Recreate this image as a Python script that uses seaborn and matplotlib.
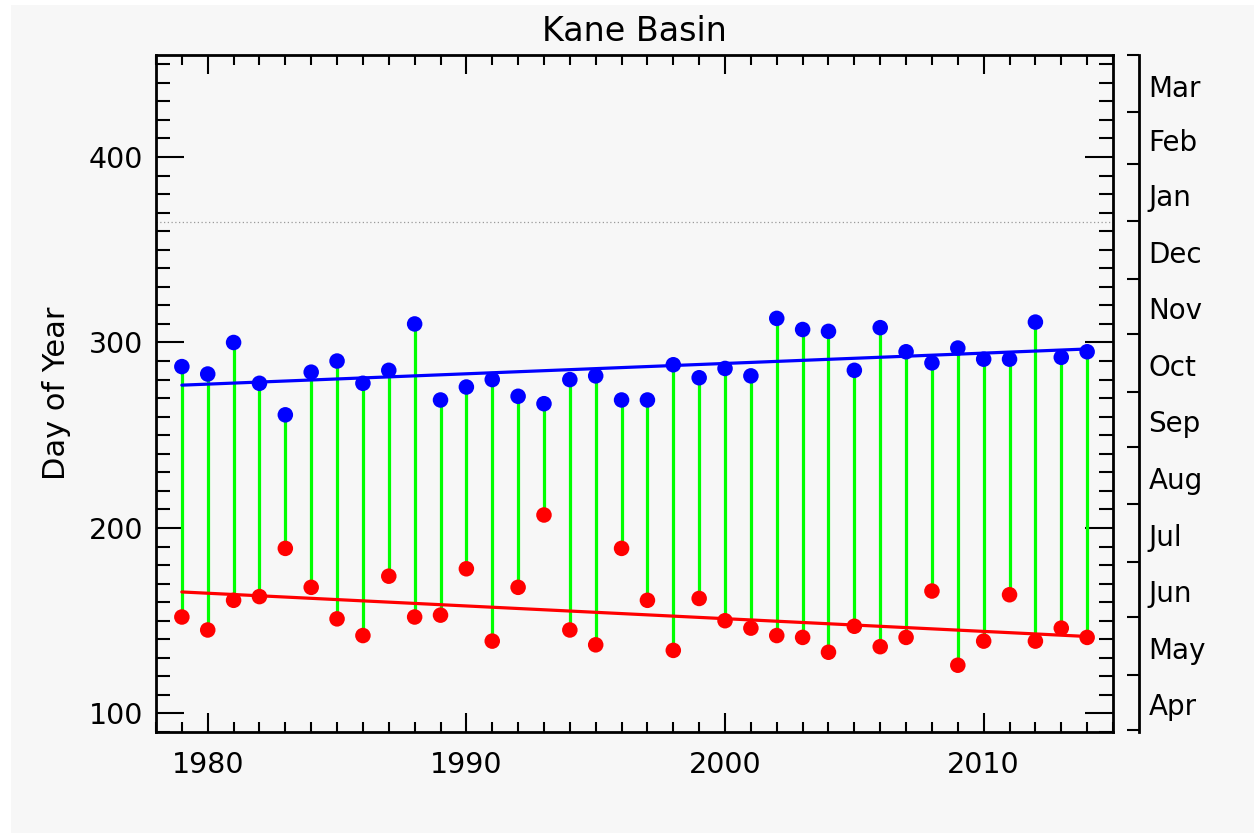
import numpy as np
import pandas as pd
import matplotlib.pyplot as plt
import seaborn as sns
from matplotlib.patches import Rectangle
from matplotlib.ticker import MultipleLocator, FixedLocator, NullFormatter, FixedFormatter

# data
years = list(range(1979, 2015))
freeze_day = [287, 283, 300, 278, 261, 284, 290, 278, 285, 310,
              269, 276, 280, 271, 267, 280, 282, 269, 269, 288,
              281, 286, 282, 313, 307, 306, 285, 308, 295, 289,
              297, 291, 291, 311, 292, 295]
melt_day = [152, 145, 161, 163, 189, 168, 151, 142, 174, 152,
            153, 178, 139, 168, 207, 145, 137, 189, 161, 134,
            162, 150, 146, 142, 141, 133, 147, 136, 141, 166,
            126, 139, 164, 139, 146, 141]

# trend lines (end points as drawn)
trend_years = [1979, 2014]
freeze_trend = [277, 296.5]
melt_trend = [165.5, 141.5]

# right axis: first day of each month (day of year, continuing into next year)
month_starts = [91, 121, 152, 182, 213, 244, 274, 305, 335, 366, 397, 425, 456]
month_names = ['Apr', 'May', 'Jun', 'Jul', 'Aug', 'Sep', 'Oct', 'Nov', 'Dec',
               'Jan', 'Feb', 'Mar']

df = pd.DataFrame({'year': years, 'freeze': freeze_day, 'melt_on': melt_day})

sns.set_style('ticks')
plt.rcParams['font.family'] = ['DejaVu Sans']
plt.rcParams['axes.unicode_minus'] = False
plt.rcParams['text.color'] = 'black'
plt.rcParams['axes.labelcolor'] = 'black'

bg = '#f7f7f7'
fig = plt.figure(figsize=(12.54, 8.33), dpi=100, facecolor='white')
fig.patches.append(Rectangle((11 / 1254, 0), 1, 828 / 833,
                             transform=fig.transFigure, facecolor=bg,
                             edgecolor='none', zorder=-10))
ax = fig.add_axes([156 / 1254, 1 - 732 / 833, 957 / 1254, 677 / 833])
ax.set_facecolor(bg)

ax.axhline(365, color='#9a9a9a', lw=0.9, ls=(0, (1, 2)), zorder=1)
ax.vlines(df['year'], df['melt_on'], df['freeze'], color='#00ff00', lw=2.3, zorder=2)
sns.lineplot(x=trend_years, y=freeze_trend, color='#0000ff', lw=2.3, ax=ax, zorder=3)
sns.lineplot(x=trend_years, y=melt_trend, color='#ff0000', lw=2.3, ax=ax, zorder=3)
sns.scatterplot(data=df, x='year', y='freeze', color='#0000ff', s=125,
                edgecolor='none', ax=ax, zorder=4)
sns.scatterplot(data=df, x='year', y='melt_on', color='#ff0000', s=125,
                edgecolor='none', ax=ax, zorder=4)

ax.set_xlim(1978, 2015)
ax.set_ylim(90, 455)

# month axis on the right
ax2 = ax.twinx()
ax2.set_ylim(90, 456)
for s in ['left', 'top', 'bottom']:
    ax2.spines[s].set_visible(False)
ax2.spines['right'].set_position(('outward', 18.5))
ax2.spines['right'].set_linewidth(2)
ax2.spines['right'].set_color('black')
ax2.yaxis.set_major_locator(FixedLocator(month_starts))
ax2.yaxis.set_major_formatter(NullFormatter())
mids = (np.array(month_starts[:-1]) + np.array(month_starts[1:])) / 2 - 1
ax2.yaxis.set_minor_locator(FixedLocator(mids))
ax2.yaxis.set_minor_formatter(FixedFormatter(month_names))
ax2.tick_params(axis='y', which='major', direction='in', length=9, width=1.5,
                color='black')
ax2.tick_params(axis='y', which='minor', length=0, pad=7, labelsize=20,
                labelcolor='black')

ax.xaxis.set_major_locator(MultipleLocator(10))
ax.xaxis.set_minor_locator(MultipleLocator(1))
ax.yaxis.set_major_locator(MultipleLocator(100))
ax.yaxis.set_minor_locator(MultipleLocator(10))
ax.tick_params(which='both', direction='in', top=True, right=True,
               left=True, bottom=True, labelright=False, width=1.5,
               labelsize=20.5, colors='black')
ax.tick_params(axis='x', which='major', length=14, pad=14)
ax.tick_params(axis='x', which='minor', length=7)
ax.tick_params(axis='y', which='major', length=20, pad=9)
ax.tick_params(axis='y', which='minor', length=10)
for s in ax.spines.values():
    s.set_linewidth(2)
    s.set_color('black')

ax.set_xlabel('')
ax.set_ylabel('Day of Year', fontsize=22, labelpad=13, color='black')
ax.set_title('Kane Basin', fontsize=24, pad=10, color='black')

fig.savefig('out.png', dpi=100, facecolor='white')
